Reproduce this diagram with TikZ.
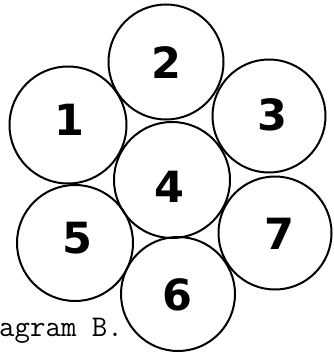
\documentclass[tikz,border=0pt]{standalone}
\usepackage{fontspec}
\newfontfamily\digitfont{DejaVu Sans}
\begin{document}
\begin{tikzpicture}[x=1pt,y=-1pt,
  ring/.style={circle,draw=black,line width=2pt,inner sep=0pt,minimum size=#1},
  digit/.style={font=\digitfont\bfseries\fontsize{43}{46}\selectfont,inner sep=0pt,anchor=center},
  caption/.style={font=\ttfamily\fontsize{30}{33}\selectfont,inner sep=0pt,anchor=base west}]
\useasboundingbox (0,0) rectangle (334,353);
\node[ring=117pt] (c1) at (68,125) {};
\node[ring=115pt] (c2) at (166,62) {};
\node[ring=113pt] (c3) at (269,116) {};
\node[ring=116pt] (c4) at (172,180) {};
\node[ring=116pt] (c5) at (75,243) {};
\node[ring=114pt] (c6) at (178,294) {};
\node[ring=113pt] (c7) at (275,233) {};
\node[digit] (n1) at (69,120) {1};
\node[digit] (n2) at (166,63) {2};
\node[digit] (n3) at (272,115) {3};
\node[digit] (n4) at (169,187) {4};
\node[digit] (n5) at (77,238) {5};
\node[digit] (n6) at (177,295) {6};
\node[digit] (n7) at (279,234) {7};
\node[caption] (cap) at (-1,336) {agram B.};
\end{tikzpicture}
\end{document}
